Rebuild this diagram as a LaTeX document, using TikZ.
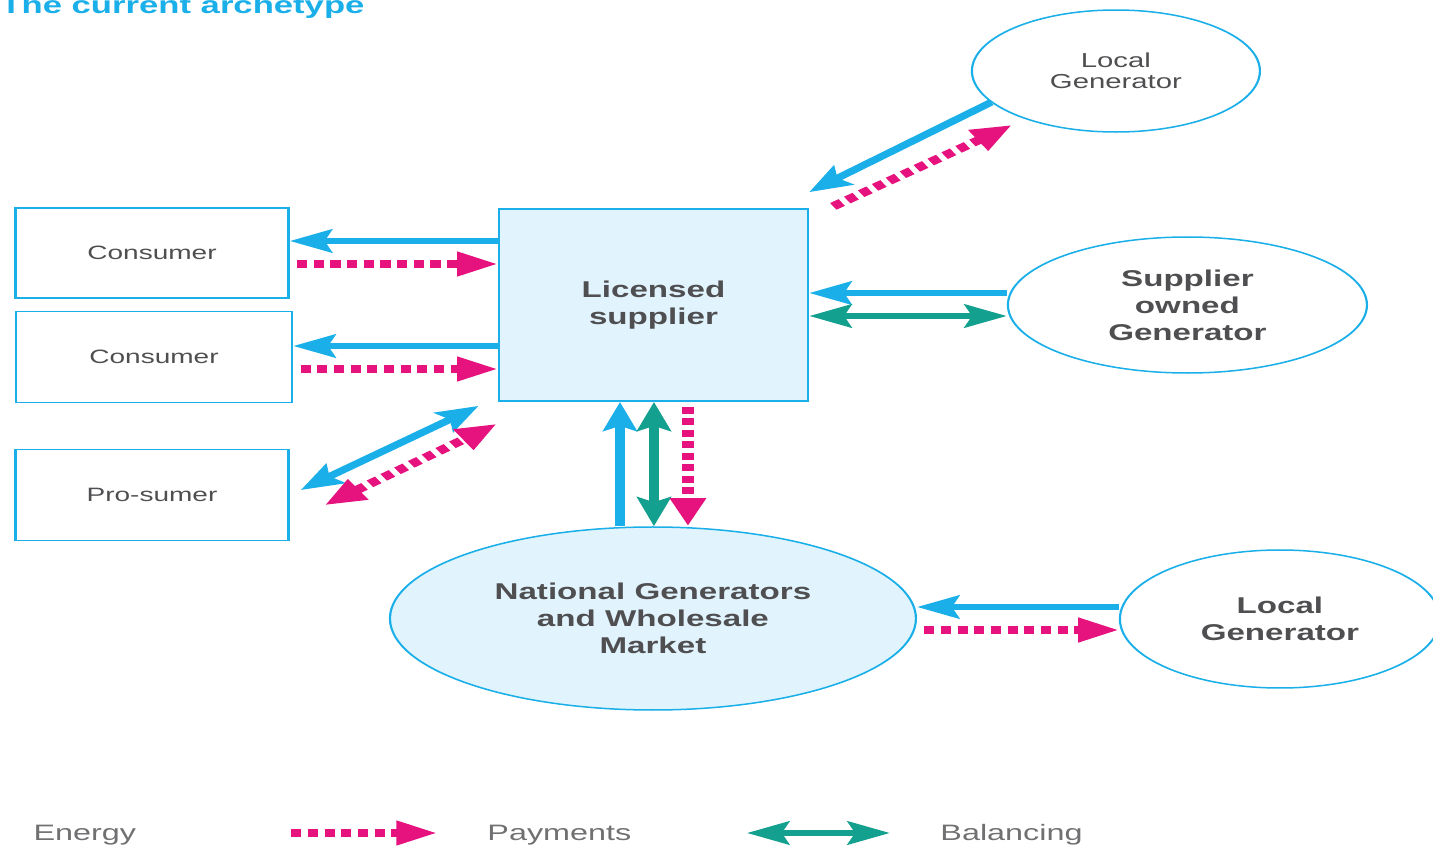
\documentclass[tikz,border=0pt]{standalone}
\usepackage{fontspec}
\setmainfont{Liberation Sans}
\usetikzlibrary{arrows.meta,shapes.geometric,calc}
\definecolor{eblue}{HTML}{1AAFE8}
\definecolor{ppink}{HTML}{E6137F}
\definecolor{bteal}{HTML}{14A08E}
\definecolor{lfill}{HTML}{E1F3FC}
\definecolor{lgray}{HTML}{4F4F52}
\definecolor{leggray}{HTML}{707073}
\tikzset{
  etip/.tip={Stealth[length=5.8mm,width=4.6mm,inset=1mm]},
  ptip/.tip={Triangle[length=5.6mm,width=4.6mm]},
  partybox/.style={rectangle,draw=eblue,line width=0.35mm,inner sep=0pt,text=lgray,align=center,font=\fontsize{11}{13}\selectfont},
  partyoval/.style={ellipse,draw=eblue,line width=0.3mm,inner sep=0pt,text=lgray,align=center,font=\fontsize{13}{15.4}\selectfont\bfseries},
  energy/.style={eblue,line width=1.3mm,-etip},
  payment/.style={ppink,line width=1.6mm,dash pattern=on 1.4mm off 0.9mm,-ptip,shorten <=1mm},
  balance/.style={bteal,line width=1.3mm,etip-etip},
  legendtext/.style={anchor=base west,inner sep=0pt,text=leggray,font=\fontsize{12.7}{15}\selectfont}
}

\begin{document}
\begin{tikzpicture}
\useasboundingbox (0,0) rectangle (286.6mm,-169.4mm);
\begin{scope}[transform canvas={xscale=1.45},x=0.13793mm,y=-0.2mm]

\node (title) at (0,13)[anchor=base west,inner sep=0pt,text=eblue,font=\fontsize{13.6}{16}\selectfont\bfseries]{The current archetype};

\node (con1) at (152,253)[partybox,minimum width=37.66mm,minimum height=18mm]{Consumer};
\node (con2) at (154,357)[partybox,minimum width=38.07mm,minimum height=18.2mm]{Consumer};
\node (pro) at (152,495)[partybox,minimum width=37.66mm,minimum height=18.2mm]{Pro-sumer};

\node (sup) at (653.5,305)[partybox,fill=lfill,minimum width=42.62mm,minimum height=38.4mm,font=\fontsize{13}{15.4}\selectfont\bfseries]{Licensed\\supplier};

\node (lg1) at (1116,71)[partyoval,minimum width=39.72mm,minimum height=24.4mm,font=\fontsize{11.5}{12}\selectfont]{Local\\Generator};
\node (sog) at (1187.5,305)[partyoval,minimum width=49.52mm,minimum height=27.2mm]{Supplier\\owned\\Generator};
\node (nat) at (653,618.5)[partyoval,fill=lfill,minimum width=72.55mm,minimum height=36.6mm]{National Generators\\and Wholesale\\Market};
\node (lg2) at (1280,619)[partyoval,minimum width=44.14mm,minimum height=27.6mm]{Local\\Generator};

\coordinate (r1) at (0,241);
\coordinate (r2) at (0,264);
\coordinate (r3) at (0,346);
\coordinate (r4) at (0,369);
\coordinate (r5) at (0,293);
\coordinate (r6) at (0,316);
\coordinate (r7) at (0,607);
\coordinate (r8) at (0,630);
\coordinate (c1) at (620,0);
\coordinate (c2) at (654,0);
\coordinate (c3) at (688,0);

\draw[energy] (sup.west |- r1) -- (con1.east |- r1);
\draw[payment] (con1.east |- r2) -- (sup.west |- r2);
\draw[energy] (sup.west |- r3) -- (con2.east |- r3);
\draw[payment] (con2.east |- r4) -- (sup.west |- r4);

\draw[energy,etip-etip] ($(pro.east)+(11,-5)$) -- ($(sup.south west)+(-19,4)$);
\draw[payment,ptip-ptip] ($(pro.east)+(29,13)$) -- ($(sup.south west)+(-1,22)$);

\draw[energy] (lg1.200.7) -- ($(sup.north east)+(0,-16)$);
\draw[payment] ($(sup.north east)+(18,1)$) -- ($(lg1)+(-104,54)$);

\draw[energy] (sog.west |- r5) -- (sup.east |- r5);
\draw[balance] (sup.east |- r6) -- (sog.west |- r6);

\draw[energy] (nat.north -| c1) -- (sup.south -| c1);
\draw[balance] (sup.south -| c2) -- (nat.north -| c2);
\draw[payment] (sup.south -| c3) -- (nat.north -| c3);

\draw[energy] (lg2.west |- r7) -- (nat.east |- r7);
\draw[payment] (nat.east |- r8) -- (lg2.west |- r8);

\node (legE) at (33,841)[legendtext]{Energy};
\coordinate (pa) at (284,833);
\coordinate (pb) at (437,833);
\draw[payment] (pa) -- (pb);
\node (legP) at (487,841)[legendtext]{Payments};
\coordinate (ba) at (747,833);
\coordinate (bb) at (890,833);
\draw[balance] (ba) -- (bb);
\node (legB) at (940,841)[legendtext]{Balancing};

\end{scope}
\end{tikzpicture}
\end{document}
